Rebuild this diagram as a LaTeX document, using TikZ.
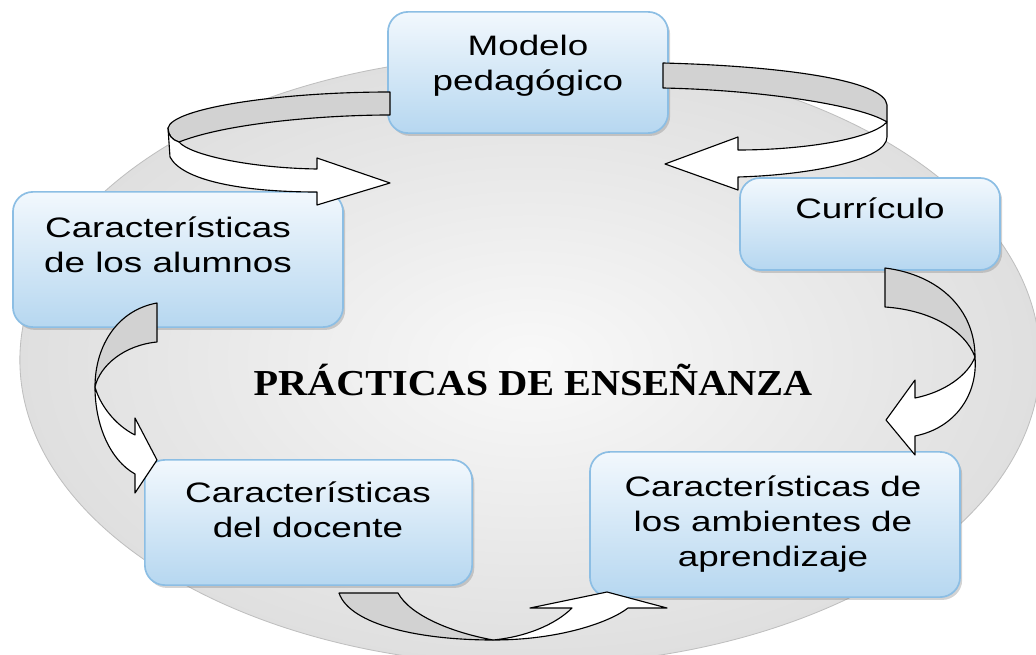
\documentclass[tikz,border=0pt]{standalone}
\usepackage{fontspec}
\setmainfont{Liberation Sans}[FakeStretch=1.31]
\newfontfamily\titulofont{Liberation Serif}[FakeStretch=1.1]
\usepackage{xcolor}
\usetikzlibrary{positioning,shapes.geometric,shadows}

\definecolor{bordeazul}{RGB}{140,190,228}
\definecolor{azulclaro}{RGB}{182,215,240}
\definecolor{azulpalido}{RGB}{242,248,253}

\begin{document}
\begin{tikzpicture}[%
    x=0.025cm,
    y=-0.025cm,
    fondo/.style={%
      ellipse,
      inner color=gray!5,
      outer color=gray!25,
      draw=gray!50,
      line width=0.6pt
    },
    caja/.style={%
      rectangle,
      rounded corners=0.5cm,
      draw=bordeazul,
      line width=1.2pt,
      top color=azulpalido,
      bottom color=azulclaro,
      drop shadow={shadow xshift=1.5pt,shadow yshift=-2pt,opacity=0.35}
    },
    texto/.style={%
      align=center,
      font=\fontsize{20}{25}\selectfont
    },
    titulo/.style={%
      font=\titulofont\bfseries\fontsize{26}{30}\selectfont
    },
    cintagris/.style={draw=black,line width=0.8pt,fill=gray!35,line join=round},
    cintablanca/.style={draw=black,line width=0.8pt,fill=white,line join=round}
  ]
    \useasboundingbox (0,0) rectangle (1036,655);

    \node[fondo, minimum width=25.5cm, minimum height=15.25cm] (fondo) at (530,360) {};

    % cajas
    \node[caja, minimum width=7cm,    minimum height=3.03cm] (modelo)     at (528,72.5)  {};
    \node[caja, minimum width=6.5cm,  minimum height=2.3cm]  (curriculo)  at (870,224)   {};
    \node[caja, minimum width=8.25cm, minimum height=3.38cm] (alumnos)    at (178,259.5) {};
    \node[caja, minimum width=8.18cm, minimum height=3.13cm] (docente)    at (308.5,522.5) {};
    \node[caja, minimum width=9.25cm, minimum height=3.63cm] (ambientes)  at (775,524.5) {};

    \node[texto] (modelo-t)    at (528,66)  {Modelo\\pedagógico};
    \node[texto] (curriculo-t) at (870,208) {Currículo};
    \node[texto] (alumnos-t)   at (168,245) {Características\\de los alumnos};
    \node[texto] (docente-t)   at (308,510) {Características\\del docente};
    \node[texto] (ambientes-t) at (773,524) {Características de\\los ambientes de\\aprendizaje};

    \node[titulo] (practicas) at (533,380) {PRÁCTICAS DE ENSEÑANZA};

    % modelo -> alumnos
    \path[cintagris] (390,92) .. controls (280,92) and (172,108) .. (168,128)
      .. controls (168,135) and (172,140) .. (179,142)
      .. controls (230,122) and (330,115) .. (390,115) -- cycle;
    \path[cintablanca] (168,128) -- (170,157) .. controls (182,180) and (240,192) .. (317,192)
      -- (317,205) -- (390,183) -- (317,158) -- (317,169)
      .. controls (250,168) and (190,155) .. (179,142)
      .. controls (172,140) and (168,135) .. (168,128) -- cycle;

    % modelo -> curriculo
    \path[cintagris] (663,63) .. controls (780,66) and (885,80) .. (887,105)
      -- (887,122) .. controls (860,105) and (760,90) .. (663,88) -- cycle;
    \path[cintablanca] (887,122) .. controls (870,140) and (800,150) .. (738,150)
      -- (738,137) -- (665,164) -- (738,190) -- (738,177)
      .. controls (810,175) and (887,160) .. (887,137) -- cycle;

    % curriculo -> ambientes
    \path[cintagris] (885,268) .. controls (940,275) and (975,310) .. (975,357)
      .. controls (965,330) and (930,310) .. (885,307) -- cycle;
    \path[cintablanca] (975,357) .. controls (978,395) and (955,428) .. (915,436)
      -- (915,455) -- (886,420) -- (915,380) -- (915,398)
      .. controls (945,392) and (968,375) .. (975,357) -- cycle;

    % alumnos -> docente
    \path[cintagris] (157,303) .. controls (118,310) and (95,345) .. (95,387)
      .. controls (100,365) and (125,345) .. (157,342) -- cycle;
    \path[cintablanca] (95,387) .. controls (95,425) and (110,460) .. (135,474)
      -- (135,493) -- (157,460) -- (135,418) -- (135,435)
      .. controls (115,425) and (100,405) .. (95,387) -- cycle;

    % docente -> ambientes
    \path[cintagris] (339,593) .. controls (350,625) and (420,640) .. (493,640)
      .. controls (450,632) and (410,615) .. (398,593) -- cycle;
    \path[cintablanca] (493,640) .. controls (560,640) and (610,622) .. (628,608)
      -- (667,608) -- (607,592) -- (530,608) -- (572,608)
      .. controls (555,625) and (525,637) .. (493,640) -- cycle;
  \end{tikzpicture}
\end{document}
